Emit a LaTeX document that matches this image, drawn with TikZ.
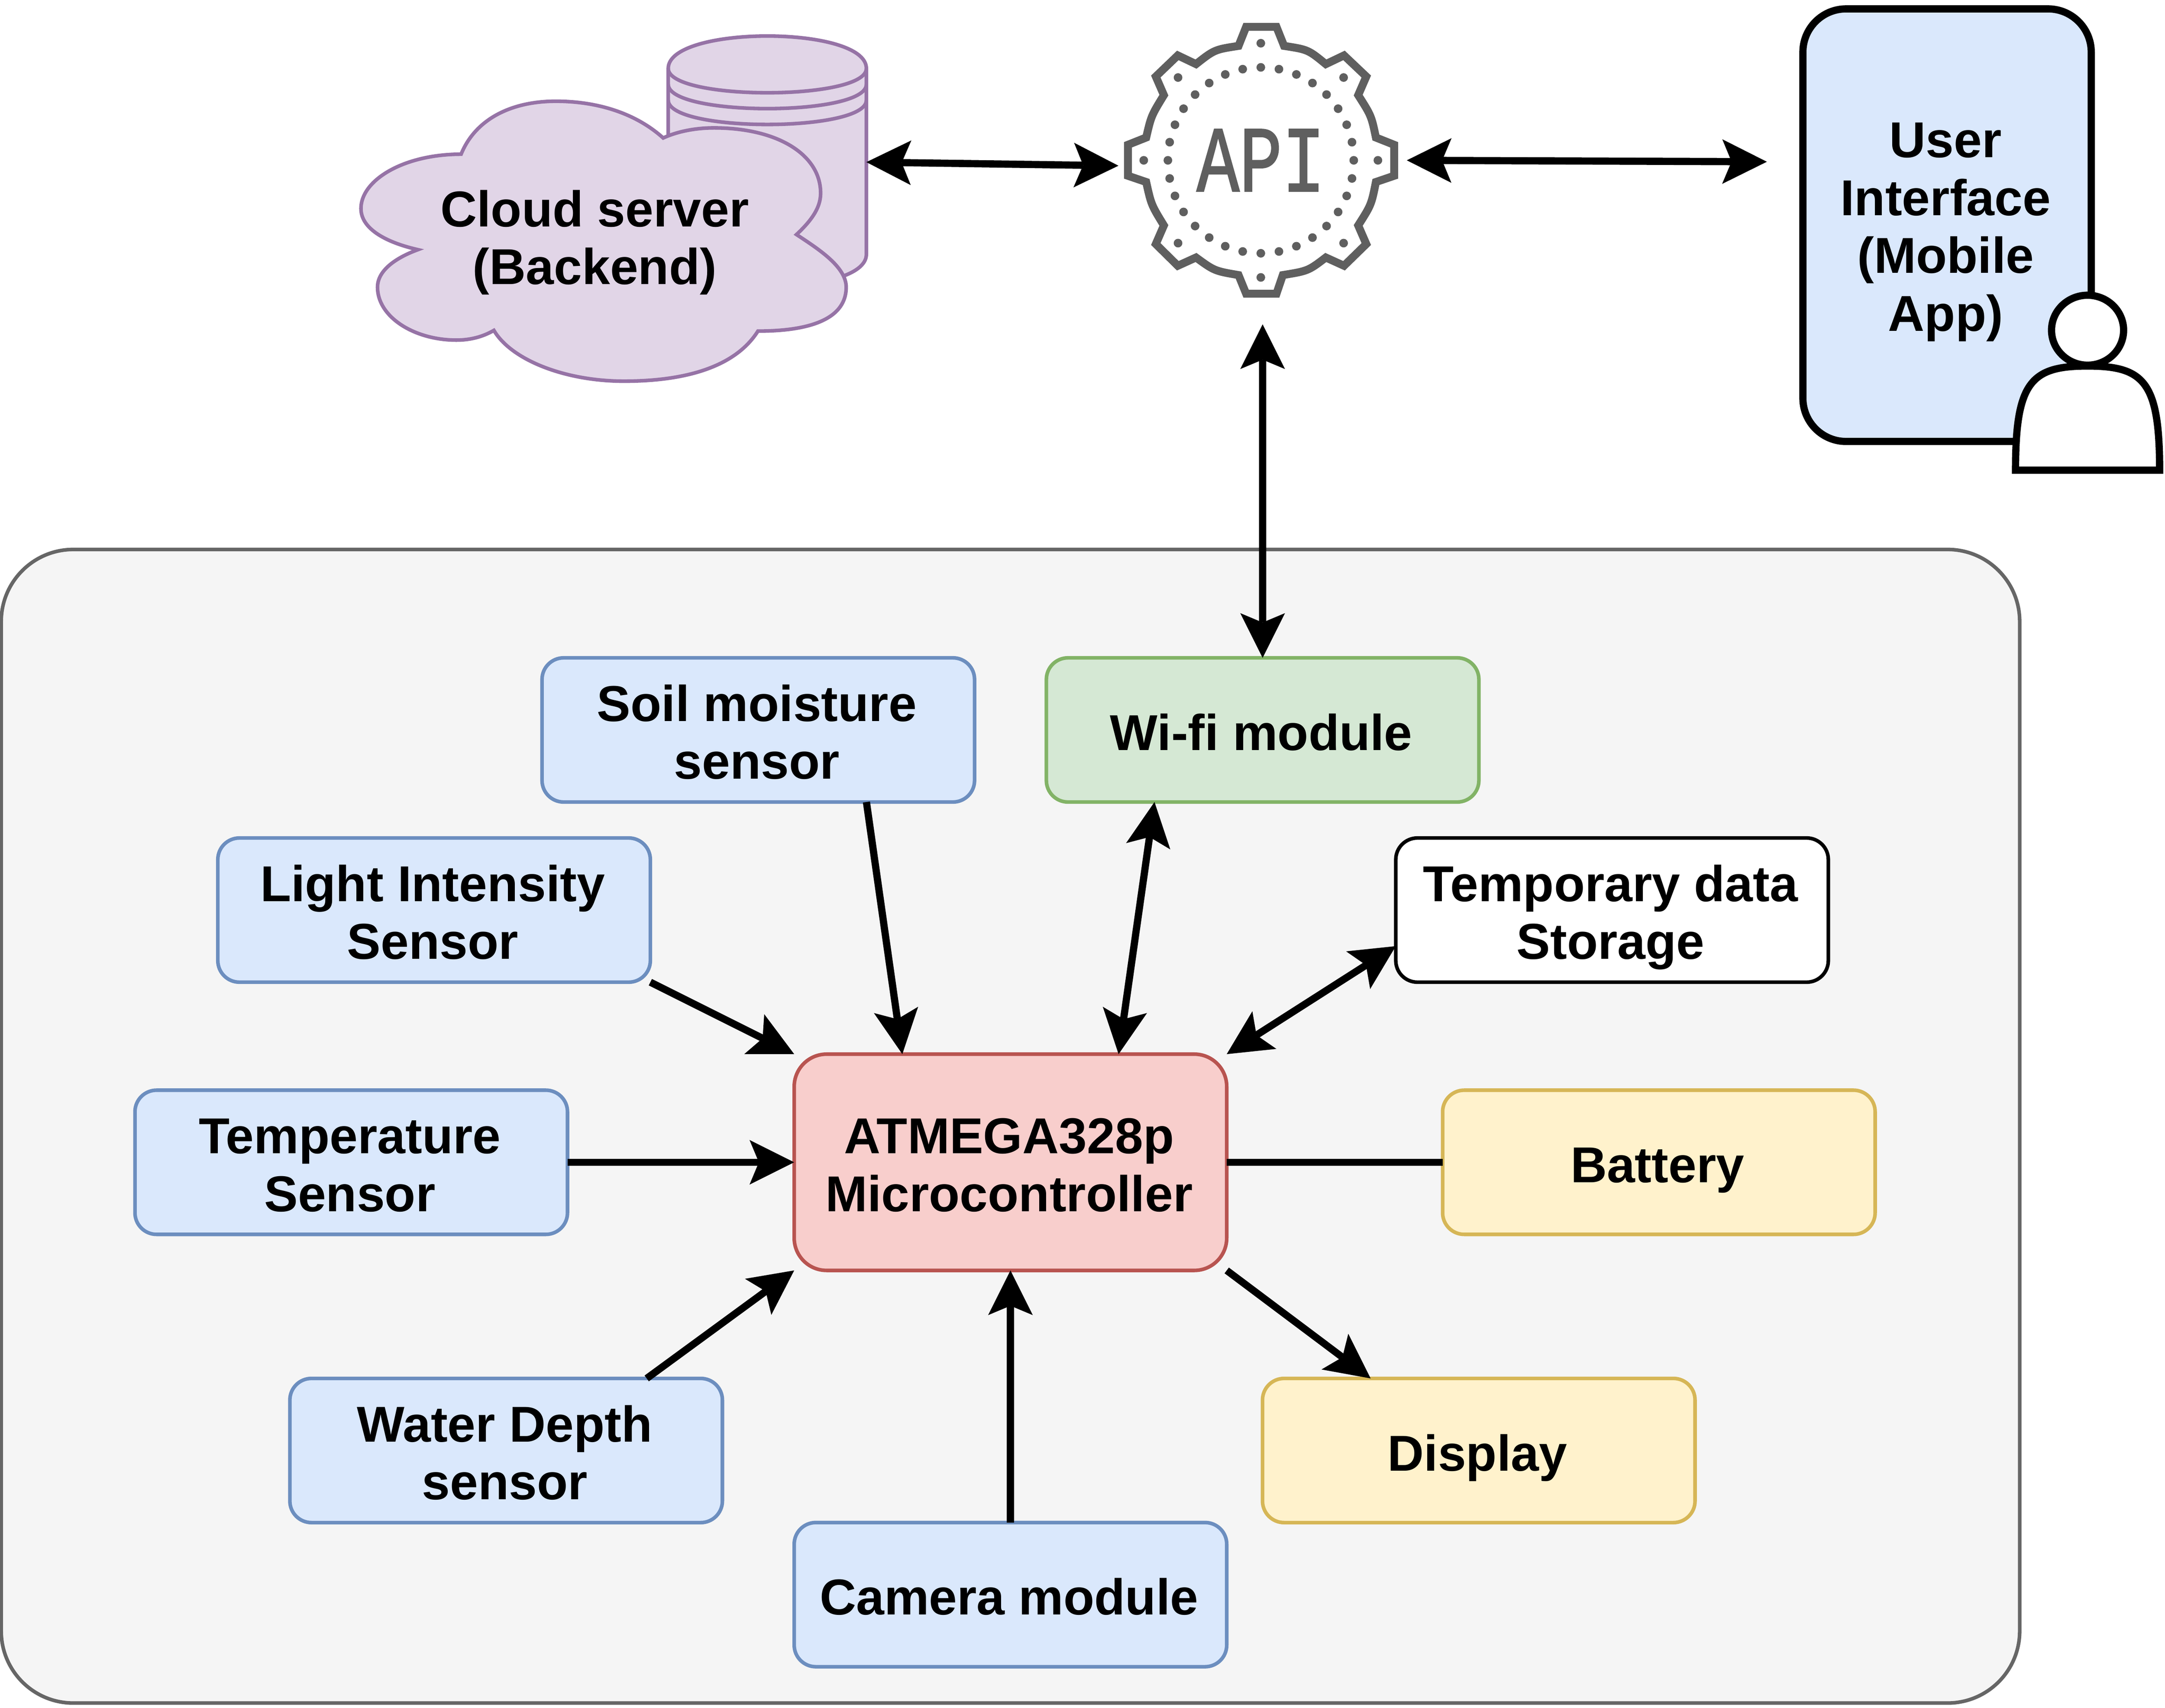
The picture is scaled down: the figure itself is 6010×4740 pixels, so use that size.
\documentclass[tikz,border=0pt]{standalone}
\usepackage{fontspec}
\usepackage{graphicx}
\setmainfont{Liberation Sans}
\newfontfamily\apifont[FakeBold=1.6]{Liberation Mono}
\usetikzlibrary{arrows.meta}
\definecolor{bluef}{HTML}{DAE8FC}\definecolor{bluel}{HTML}{6C8EBF}
\definecolor{greenf}{HTML}{D5E8D4}\definecolor{greenl}{HTML}{82B366}
\definecolor{redf}{HTML}{F8CECC}\definecolor{redl}{HTML}{B85450}
\definecolor{yelf}{HTML}{FFF2CC}\definecolor{yell}{HTML}{D6B656}
\definecolor{purf}{HTML}{E1D5E7}\definecolor{purl}{HTML}{9673A6}
\definecolor{grayf}{HTML}{F5F5F5}\definecolor{grayl}{HTML}{666666}
\definecolor{apigray}{HTML}{5F5F5F}
\newcommand\ts{\kern.08cm\rule[-.34cm]{0pt}{1.8cm}}
\newcommand\lblfont{\fontsize{39.83}{45.6}\selectfont\bfseries\lineskiplimit=-5cm\relax}
\tikzset{
  tipA/.tip={Stealth[length=1.24cm,width=1.24cm,inset=.26cm,line width=0pt]},
  conn/.style={line width=.2cm,draw=black},
  boxbase/.style={rectangle,rounded corners=.6cm,line width=.1cm,minimum width=12cm,minimum height=4cm,
    inner sep=0pt,outer sep=0pt,align=center,text=black,font=\lblfont},
  sensorbox/.style={boxbase,draw=bluel,fill=bluef},
  wifibox/.style={boxbase,draw=greenl,fill=greenf},
  mcubox/.style={boxbase,draw=redl,fill=redf,minimum height=6cm,rounded corners=.9cm},
  powerbox/.style={boxbase,draw=yell,fill=yelf},
  storebox/.style={boxbase,draw=black,fill=white},
  panelbox/.style={rectangle,rounded corners=2cm,line width=.1cm,draw=grayl,fill=grayf,minimum width=56cm,minimum height=32cm,inner sep=0pt,outer sep=0pt},
  uibox/.style={boxbase,draw=black,fill=bluef,line width=.2cm,minimum width=8cm,minimum height=12cm,rounded corners=1.2cm},
  cloudshape/.style={line width=.1cm,draw=purl,fill=purf},
  labeltext/.style={inner sep=0pt,outer sep=0pt,align=center,text=black,font=\lblfont}
}
\begin{document}
\begin{tikzpicture}[x=.01cm,y=-.01cm]
\useasboundingbox (0,0) rectangle (6010,4740);
% panel
\node[panelbox] (panel) at (2805,3126) {};
% datastore
\draw[cloudshape] (1855,190) .. controls (1855,70) and (2405,70) .. (2405,190) -- (2405,706) .. controls (2405,826) and (1855,826) .. (1855,706) -- cycle;
\draw[cloudshape,fill=none] (1855,190) .. controls (1855,280) and (2405,280) .. (2405,190);
\draw[cloudshape,fill=none] (1855,234) .. controls (1855,324) and (2405,324) .. (2405,234);
\draw[cloudshape,fill=none] (1855,278) .. controls (1855,368) and (2405,368) .. (2405,278);
\coordinate (db) at (2405,450);
% cloud
\draw[cloudshape,miter limit=10] (1280,428)
  .. controls (1320,330) and (1420,281) .. (1543,281)
  .. controls (1650,281) and (1760,310) .. (1841,383)
  .. controls (1880,365) and (1930,355) .. (1982,355)
  .. controls (2160,355) and (2278,430) .. (2278,536)
  .. controls (2278,575) and (2255,610) .. (2211,651)
  .. controls (2270,690) and (2349,740) .. (2349,797)
  .. controls (2349,880) and (2260,919) .. (2104,919)
  .. controls (2040,1020) and (1900,1058) .. (1732,1058)
  .. controls (1570,1058) and (1420,1000) .. (1371,917)
  .. controls (1340,935) and (1305,944) .. (1267,944)
  .. controls (1150,944) and (1048,880) .. (1048,797)
  .. controls (1048,750) and (1100,715) .. (1160,693)
  .. controls (1060,670) and (1002,630) .. (1002,579)
  .. controls (1002,500) and (1120,428) .. (1280,428) -- cycle;
\node[labeltext] (cloud) at (1655,653) {Cloud server\ts\\(Backend)\ts};
% API gear
\begin{scope}[shift={(2950,0)},x=.00701754cm,y=-.00574053cm]
\draw[draw=apigray,line width=.22cm,line join=miter]
 (725,130) -- (845,130) -- (875,222) .. controls (970,240) .. (1040,310) -- (1112,268) -- (1200,370) -- (1168,460)
 .. controls (1220,560) .. (1238,665) -- (1310,700) -- (1310,850) -- (1238,880)
 .. controls (1220,990) .. (1168,1090) -- (1200,1180) -- (1112,1285) -- (1040,1245)
 .. controls (970,1310) .. (870,1330) -- (845,1420) -- (725,1420) -- (695,1330)
 .. controls (600,1310) .. (527,1245) -- (455,1285) -- (368,1180) -- (400,1090)
 .. controls (350,990) .. (330,880) -- (258,850) -- (258,700) -- (330,665)
 .. controls (350,560) .. (400,460) -- (368,370) -- (455,268) -- (527,310)
 .. controls (600,240) .. (695,222) -- cycle;
\end{scope}
\foreach \a in {0,11.25,...,359}
  \fill[apigray] ({3500+258*cos(\a)},{445+258*sin(\a)}) circle[radius=.12cm];
\foreach \a in {0,45,...,359}
  \fill[apigray] ({3500+325*cos(\a)},{445+325*sin(\a)}) circle[radius=.12cm];
\node[rectangle,inner sep=0pt,outer sep=0pt,minimum width=8cm,minimum height=9.1cm,text=apigray,
  font=\fontsize{74}{74}\selectfont\apifont] (api) at (3500,445) {\raisebox{-.05cm}{\scalebox{.76}[1]{API}}};
% user
\node[uibox] (ui) at (5405,625) {};
\node[labeltext] (uilabel) at (5405,622) {User\ts\\Interface\ts\\(Mobile\ts\\App)\ts};
\draw[line width=.2cm,draw=black,fill=white] (5795,916.5) ellipse[x radius=1cm,y radius=.97cm];
\draw[line width=.2cm,draw=black,fill=white,line join=miter] (5595,1305) .. controls (5595,1060) and (5638,1016) .. (5795,1016)
  .. controls (5952,1016) and (5995,1060) .. (5995,1305) -- cycle;
% boxes
\node[sensorbox] (soil) at (2105,2026) {Soil moisture\ts\\sensor\ts};
\node[wifibox] (wifi) at (3505,2026) {Wi-fi module\ts};
\node[sensorbox] (light) at (1205,2526) {Light Intensity\ts\\Sensor\ts};
\node[storebox] (store) at (4475,2526) {Temporary data\ts\\Storage\ts};
\node[sensorbox] (temp) at (975,3226) {Temperature\ts\\Sensor\ts};
\node[mcubox] (mcu) at (2805,3226) {ATMEGA328p\ts\\Microcontroller\ts};
\node[powerbox] (bat) at (4605,3226) {Battery\ts};
\node[sensorbox] (water) at (1405,4026) {Water Depth\ts\\sensor\ts};
\node[powerbox] (disp) at (4105,4026) {Display\ts};
\node[sensorbox] (cam) at (2805,4426) {Camera module\ts};
% connectors
\draw[conn,{tipA}-{tipA}] (db) -- ([shift={(5,15)}]api.west);
\draw[conn,{tipA}-{tipA}] ([xshift=.05cm]api.east) -- ([shift={(-100,-176)}]ui.west);
\draw[conn,{tipA}-{tipA}] ([xshift=.05cm]api.south) -- (wifi.north);
\draw[conn,-{tipA}] ([xshift=3cm]soil.south) -- ([xshift=-3cm]mcu.north);
\draw[conn,{tipA}-{tipA}] ([xshift=-3cm]wifi.south) -- ([xshift=3cm]mcu.north);
\draw[conn,{tipA}-{tipA}] ([yshift=-1cm]store.west) -- (mcu.north east);
\draw[conn,-{tipA}] (light.south east) -- (mcu.north west);
\draw[conn,-{tipA}] (temp.east) -- (mcu.west);
\draw[conn] (mcu.east) -- (bat.west);
\draw[conn,-{tipA}] ([xshift=3.9cm]water.north) -- (mcu.south west);
\draw[conn,-{tipA}] (cam.north) -- (mcu.south);
\draw[conn,-{tipA}] (mcu.south east) -- ([xshift=-3cm]disp.north);
\end{tikzpicture}
\end{document}
